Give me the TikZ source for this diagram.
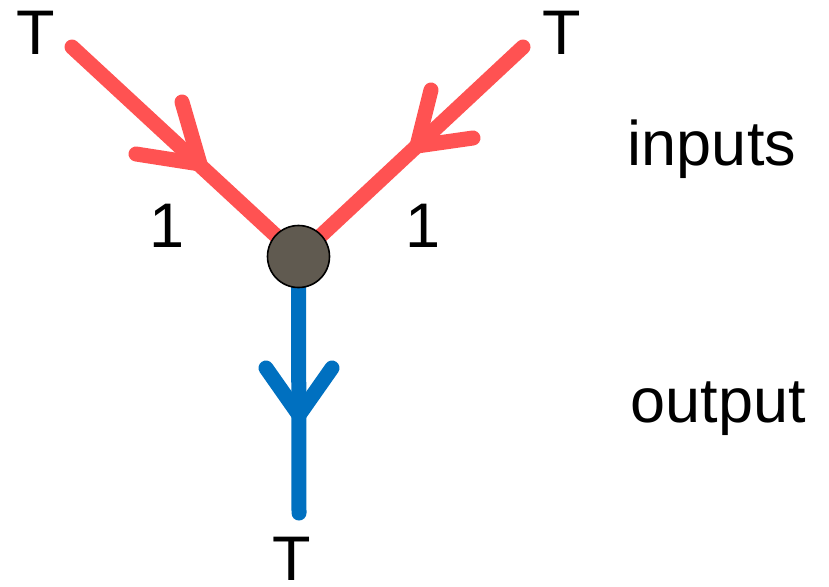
\documentclass[tikz,border=0pt]{standalone}
\usepackage{fontspec}
\setmainfont{Liberation Sans}
\definecolor{inred}{RGB}{255,82,82}
\definecolor{outblue}{RGB}{0,112,192}
\definecolor{hubfill}{RGB}{96,90,80}
\tikzset{
  inline/.style={draw=inred,line width=15pt,line cap=round,line join=round},
  outline/.style={draw=outblue,line width=15pt,line cap=round,line join=round},
  hub/.style={circle,draw=black,line width=1.6pt,fill=hubfill,minimum size=62pt,inner sep=0pt},
  lbl/.style={inner sep=0pt,anchor=base,font=\fontsize{63}{70}\selectfont}
}
\begin{document}
\begin{tikzpicture}[x=1pt,y=-1pt]
\useasboundingbox (0,0) rectangle (829,586);
\coordinate (c) at (298.5,256.5);
% input lines
\coordinate (s1) at (72,47);
\coordinate (s2) at (523,47);
\coordinate (e3) at (299,513);
\coordinate (v1) at (200,164);
\coordinate (v1a) at (182,102);
\coordinate (v1b) at (136,154);
\coordinate (v2) at (417,146);
\coordinate (v2a) at (431,90);
\coordinate (v2b) at (473,138);
\coordinate (v3) at (299,415);
\coordinate (v3a) at (266,368);
\coordinate (v3b) at (332,368);
\draw[inline] (s1) -- (c);
\draw[inline] (s2) -- (c);
\draw[inline] (v1a) -- (v1) -- (v1b);
\draw[inline] (v2a) -- (v2) -- (v2b);
\draw[outline] (c) -- (e3);
\draw[outline] (v3a) -- (v3) -- (v3b);
\node[hub] (hubnode) at (c) {};
% labels
\node[lbl] (t1) at (36,55) {T};
\node[lbl] (t2) at (562,55) {T};
\node[lbl] (t3) at (292,580) {T};
\node[lbl] (w1) at (167,247) {1};
\node[lbl] (w2) at (423,247) {1};
\node[lbl] (inp) at (712,165) {inputs};
\node[lbl] (outp) at (718,422) {output};
\end{tikzpicture}
\end{document}
